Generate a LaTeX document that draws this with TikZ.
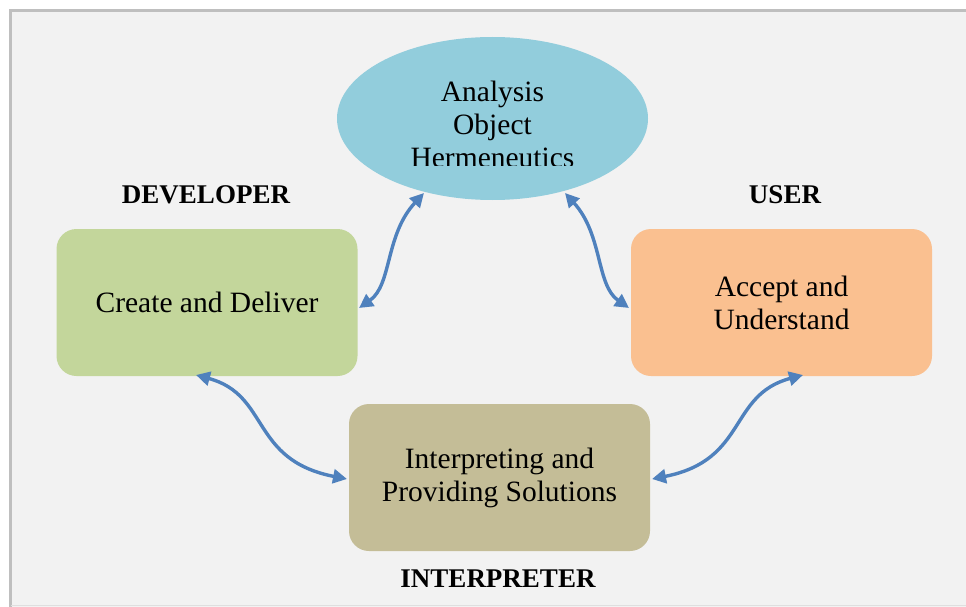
\documentclass[tikz,border=0pt]{standalone}
\usepackage{fontspec}
\setmainfont{Liberation Serif}
\usetikzlibrary{arrows.meta,shapes.geometric}
\definecolor{bgc}{HTML}{F2F2F2}
\definecolor{framec}{HTML}{BFBFBF}
\definecolor{ellc}{HTML}{92CDDC}
\definecolor{devc}{HTML}{C3D69B}
\definecolor{userc}{HTML}{FAC090}
\definecolor{intc}{HTML}{C4BD97}
\definecolor{arrc}{HTML}{4F81BD}
\tikzset{
  boxstyle/.style={rounded corners=20pt, minimum width=301pt, minimum height=147pt, inner sep=0pt, align=center, font=\fontsize{29.5}{33}\selectfont},
  rolelabel/.style={font=\bfseries\fontsize{27}{30}\selectfont, inner sep=0pt},
  link/.style={draw=arrc, line width=3.4pt, {Triangle[length=14pt,width=14pt]}-{Triangle[length=14pt,width=14pt]}}
}
\begin{document}
\begin{tikzpicture}[x=1pt,y=-1pt]
\useasboundingbox (0,0) rectangle (966,607);
\begin{scope}
\clip (0,0) rectangle (966,607);
\fill[bgc] (11,11) rectangle (972,613);
\draw[framec, line width=2.5pt] (10.5,612) -- (10.5,10.5) -- (972,10.5);
\draw[framec!50, line width=1pt] (11,605.5) -- (966,605.5);
\end{scope}
% ellipse
\node[fill=ellc, ellipse, minimum width=311pt, minimum height=163pt, inner sep=0pt] (ana) at (492.5,118.5) {};
\begin{scope}
\clip (300,30) rectangle (700,165.5);
\node[align=center, font=\fontsize{29.5}{33}\selectfont, inner sep=0pt] (anatext) at (492.5,124) {Analysis\\Object\\Hermeneutics};
\end{scope}
% boxes
\node[boxstyle, fill=devc] (dev) at (207,302.5) {Create and Deliver};
\node[boxstyle, fill=userc] (user) at (781.5,302.5) {Accept and\\Understand};
\node[boxstyle, fill=intc] (int) at (499.5,477.5) {Interpreting and\\Providing Solutions};
% labels
\node[rolelabel] (devlab) at (206,195) {DEVELOPER};
\node[rolelabel] (userlab) at (785,195) {USER};
\node[rolelabel] (intlab) at (498,579) {INTERPRETER};
% connectors
\coordinate (a1) at (424,193);
\coordinate (d1) at (359,308);
\coordinate (a2) at (565,193);
\coordinate (u1) at (629,308);
\coordinate (d2) at (196,375);
\coordinate (i1) at (347,479);
\coordinate (u2) at (803,375);
\coordinate (i2) at (652,479);
\draw[link] (d1) .. controls (392,285) and (385,235) .. (a1);
\draw[link] (u1) .. controls (596,285) and (603,235) .. (a2);
\draw[link] (d2) .. controls (270,395) and (250,460) .. (i1);
\draw[link] (u2) .. controls (728,395) and (748,460) .. (i2);
\end{tikzpicture}
\end{document}
